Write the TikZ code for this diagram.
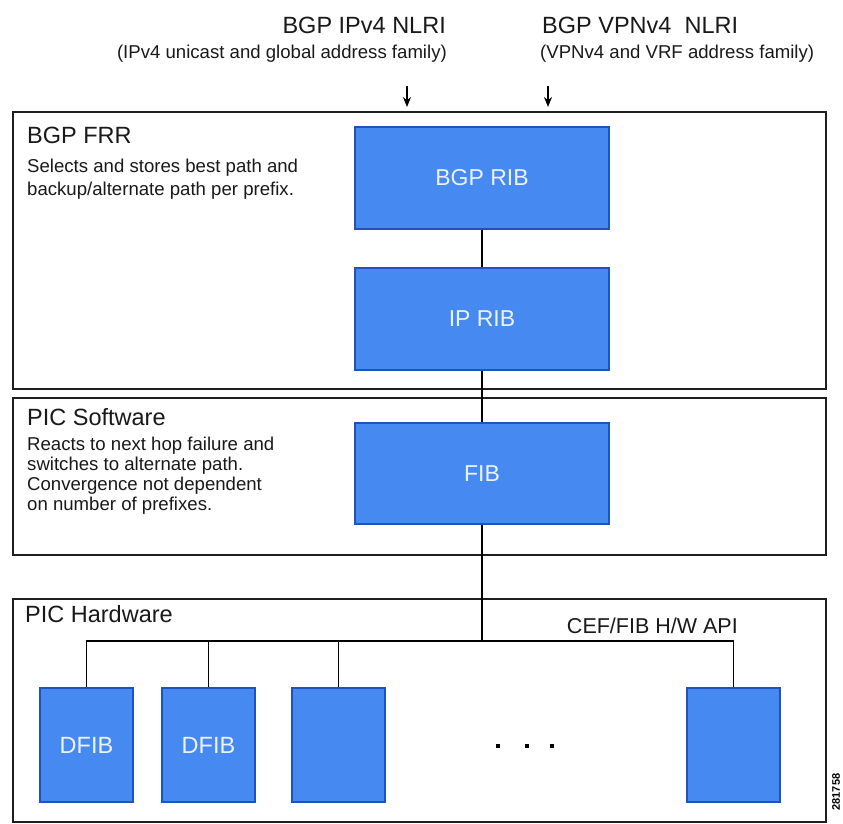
\documentclass[tikz,border=0pt]{standalone}
\usepackage{fontspec}
\setmainfont{Liberation Sans}
\usetikzlibrary{arrows.meta}
\definecolor{ribfill}{RGB}{70,137,240}
\definecolor{ribedge}{RGB}{32,82,190}
\definecolor{ribtext}{RGB}{236,243,255}
\definecolor{layeredge}{RGB}{30,30,30}
\begin{document}
\begin{tikzpicture}[x=1pt,y=-1pt,
  layer/.style={draw=layeredge, line width=1.8pt, fill=white, rectangle, inner sep=0pt, anchor=north west},
  ribbox/.style={draw=ribedge, line width=1.6pt, fill=ribfill, text=ribtext, rectangle, inner sep=0pt,
    font=\fontsize{23}{23}\selectfont, minimum width=254pt, minimum height=102pt},
  dbox/.style={draw=ribedge, line width=1.6pt, fill=ribfill, text=ribtext, rectangle, inner sep=0pt,
    font=\fontsize{23.5}{23.5}\selectfont, minimum width=93pt, minimum height=114pt},
  wire/.style={draw=black, line width=1.4pt},
  feed/.style={draw=black, line width=1.3pt, -{Stealth[length=10pt,width=8pt]}},
  hdr/.style={inner sep=0pt, font=\fontsize{23.5}{23.5}\selectfont, text=black!90},
  body/.style={inner sep=0pt, font=\fontsize{18.6}{18.6}\selectfont, text=black!90, anchor=base west}
]
\useasboundingbox (0,0) rectangle (843,823);

% top inputs
\node[hdr, anchor=base east] (t1) at (446,33.4) {BGP IPv4 NLRI};
\node[body, anchor=base east] (s1) at (447,58.5) {(IPv4 unicast and global address family)};
\node[hdr, anchor=base west] (t2) at (542,33.4) {BGP VPNv4 \ NLRI};
\node[body, anchor=base west] (s2) at (540,58.5) {(VPNv4 and VRF address family)};
\coordinate (a1s) at (407,86);
\coordinate (a1e) at (407,107);
\coordinate (a2s) at (548,86);
\coordinate (a2e) at (548,107);
\draw[feed] (a1s) -- (a1e);
\draw[feed] (a2s) -- (a2e);

% layers
\node[layer, minimum width=813pt, minimum height=277pt] (frr) at (12,111) {};
\node[layer, minimum width=813pt, minimum height=157pt] (sw) at (12,397) {};
\node[layer, minimum width=813pt, minimum height=223pt] (hw) at (12,598) {};

\node[hdr, anchor=base west] (frrt) at (27,143) {BGP FRR};
\node[body] (frr1) at (27,172) {Selects and stores best path and};
\node[body] (frr2) at (27,195) {backup/alternate path per prefix.};

\node[hdr, anchor=base west] (swt) at (27,425) {PIC Software};
\node[body] (sw1) at (27,450) {Reacts to next hop failure and};
\node[body] (sw2) at (27,470) {switches to alternate path.};
\node[body] (sw3) at (27,490) {Convergence not dependent};
\node[body] (sw4) at (27,510) {on number of prefixes.};

\node[hdr, anchor=base west] (hwt) at (25,622) {PIC Hardware};
\node[hdr, anchor=base east, font=\fontsize{21.5}{21.5}\selectfont] (api) at (738,633) {CEF/FIB H/W API};

% RIB / FIB boxes
\node[ribbox] (bgprib) at (482,178) {BGP RIB};
\node[ribbox] (iprib) at (482,319) {IP RIB};
\node[ribbox, minimum height=101pt] (fib) at (482,473.5) {FIB};

% line cards
\node[dbox] (dfib1) at (86.5,745) {DFIB};
\node[dbox] (dfib2) at (208.5,745) {DFIB};
\node[dbox] (lc3) at (338.5,745) {};
\node[dbox] (lc4) at (733.5,745) {};

% connectors
\coordinate (busc) at (482,641);
\draw[wire] (bgprib.south) -- (iprib.north);
\draw[wire] (iprib.south) -- (fib.north);
\draw[wire] (fib.south) -- (busc);
\draw[wire] (dfib1.north) -- (dfib1.north |- busc) -- (lc4.north |- busc) -- (lc4.north);
\draw[wire] (dfib2.north) -- (dfib2.north |- busc);
\draw[wire] (lc3.north) -- (lc3.north |- busc);

% ellipsis
\fill (496,744) rectangle (500,748);
\fill (525,744) rectangle (529,748);
\fill (550,744) rectangle (554,748);

% figure id
\node[rotate=90, inner sep=0pt, font=\fontsize{11}{11}\selectfont\bfseries] (figid) at (836,792) {281758};
\end{tikzpicture}
\end{document}
